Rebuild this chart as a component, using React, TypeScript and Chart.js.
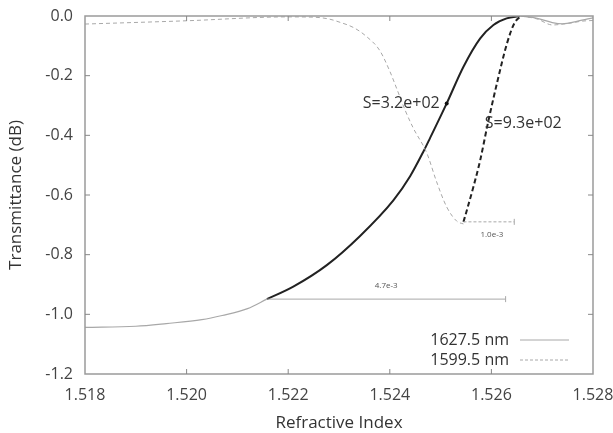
import React, { useEffect, useRef } from "react";
import { Chart, registerables } from "chart.js";

Chart.register(...registerables);

// 1627.5 nm – light grey full trace (left tail)
const solidTailX = [1.518, 1.519, 1.5196, 1.5203, 1.5207, 1.5212, 1.52158];
const solidTailY = [-1.044, -1.04, -1.031, -1.018, -1.004, -0.981, -0.949];
// 1627.5 nm – black sensing segment
const solidSlopeX = [1.52158, 1.5221, 1.52276, 1.52341, 1.52407, 1.5244, 1.52466, 1.52479, 1.52512, 1.52545, 1.52578, 1.52604, 1.5263, 1.52656];
const solidSlopeY = [-0.949, -0.907, -0.835, -0.738, -0.618, -0.537, -0.455, -0.41, -0.293, -0.17, -0.075, -0.03, -0.008, 0.0];
// 1627.5 nm – ripple after the edge
const solidRippleX = [1.52656, 1.5269, 1.5272, 1.5274, 1.5277, 1.528];
const solidRippleY = [0.0, -0.008, -0.022, -0.026, -0.017, -0.006];

// 1599.5 nm – grey dashed trace
const dashGreyX = [1.518, 1.52, 1.522, 1.5225, 1.5228, 1.523, 1.5233, 1.52355, 1.5238, 1.524, 1.52414, 1.5243, 1.52446, 1.52473, 1.52492, 1.52512, 1.52532, 1.52545];
const dashGreyY = [-0.027, -0.016, -0.003, -0.004, -0.01, -0.02, -0.04, -0.07, -0.115, -0.185, -0.245, -0.315, -0.375, -0.46, -0.555, -0.64, -0.688, -0.697];
// 1599.5 nm – black dashed sensing segment
const dashSlopeX = [1.52545, 1.52551, 1.52565, 1.52578, 1.52593, 1.52611, 1.52631, 1.52645, 1.52658];
const dashSlopeY = [-0.69, -0.655, -0.57, -0.483, -0.36, -0.225, -0.09, -0.025, 0.0];
// 1599.5 nm – ripple after the edge
const dashRippleX = [1.52658, 1.5269, 1.5272, 1.5275, 1.5278, 1.528];
const dashRippleY = [0.0, -0.01, -0.03, -0.025, -0.017, -0.015];

// measurement bars
const barLabels = ["4.7e-3", "1.0e-3"];
const barStartX = [1.52158, 1.52545];
const barEndX = [1.52628, 1.52645];
const barY = [-0.949, -0.69];

// sensitivity labels
const sensLabels = ["S=3.2e+02", "S=9.3e+02"];
const sensX = [1.52512, 1.52593];
const sensY = [-0.293, -0.36];

const legendLabels = ["1627.5 nm", "1599.5 nm"];

const xTicks = [1.518, 1.52, 1.522, 1.524, 1.526, 1.528];
const yTicks = [0, -0.2, -0.4, -0.6, -0.8, -1.0, -1.2];

const pts = (xs: number[], ys: number[]) => xs.map((x, i) => ({ x, y: ys[i] }));

const FONT = "'Open Sans', 'DejaVu Sans', sans-serif";
const GREY = "#a8a8a8";
const DARK = "#222";

const decorPlugin = {
  id: "decor",
  afterDatasetsDraw(chart: any) {
    const { ctx, chartArea: a, scales } = chart;
    const xs = scales.x;
    const ys = scales.y;
    ctx.save();
    // frame
    ctx.strokeStyle = "#9a9a9a";
    ctx.lineWidth = 1.5;
    ctx.setLineDash([]);
    ctx.strokeRect(a.left, a.top, a.right - a.left, a.bottom - a.top);
    // inward ticks
    ctx.lineWidth = 1;
    ctx.strokeStyle = "#888";
    xTicks.slice(1, -1).forEach((v) => {
      const px = xs.getPixelForValue(v);
      ctx.beginPath();
      ctx.moveTo(px, a.bottom);
      ctx.lineTo(px, a.bottom - 5);
      ctx.moveTo(px, a.top);
      ctx.lineTo(px, a.top + 5);
      ctx.stroke();
    });
    yTicks.slice(1, -1).forEach((v) => {
      const py = ys.getPixelForValue(v);
      ctx.beginPath();
      ctx.moveTo(a.left, py);
      ctx.lineTo(a.left + 5, py);
      ctx.moveTo(a.right, py);
      ctx.lineTo(a.right - 5, py);
      ctx.stroke();
    });
    // measurement bars
    barLabels.forEach((lab, i) => {
      const x0 = xs.getPixelForValue(barStartX[i]);
      const x1 = xs.getPixelForValue(barEndX[i]);
      const y = ys.getPixelForValue(barY[i]);
      ctx.strokeStyle = GREY;
      ctx.lineWidth = 1;
      ctx.setLineDash(i === 1 ? [3, 2] : []);
      ctx.beginPath();
      ctx.moveTo(x0, y);
      ctx.lineTo(x1, y);
      ctx.stroke();
      ctx.setLineDash([]);
      ctx.beginPath();
      ctx.moveTo(x1, y - 3);
      ctx.lineTo(x1, y + 3);
      ctx.stroke();
      ctx.fillStyle = "#555";
      ctx.font = `8px ${FONT}`;
      ctx.textAlign = "center";
      ctx.textBaseline = "middle";
      const cx = i === 0 ? (x0 + x1) / 2 : (x0 + x1) / 2 + 3;
      const cy = i === 0 ? y - 13 : y + 13;
      ctx.fillText(lab, cx, cy);
    });
    // sensitivity labels
    ctx.font = `16px ${FONT}`;
    ctx.fillStyle = "#333";
    ctx.textBaseline = "middle";
    sensLabels.forEach((lab, i) => {
      const px = xs.getPixelForValue(sensX[i]);
      const py = ys.getPixelForValue(sensY[i]);
      if (i === 0) {
        ctx.textAlign = "right";
        ctx.fillText(lab, px - 7, py);
        ctx.beginPath();
        ctx.fillStyle = "#111";
        ctx.arc(px, py, 2, 0, Math.PI * 2);
        ctx.fill();
        ctx.fillStyle = "#333";
      } else {
        ctx.textAlign = "left";
        ctx.fillText(lab, px - 3, py);
      }
    });
    // legend
    ctx.font = `16px ${FONT}`;
    ctx.textAlign = "right";
    legendLabels.forEach((lab, i) => {
      const y = a.bottom - 34 + i * 20;
      ctx.fillStyle = "#333";
      ctx.fillText(lab, a.right - 84, y);
      ctx.strokeStyle = GREY;
      ctx.lineWidth = 1;
      ctx.setLineDash(i === 1 ? [3, 2] : []);
      ctx.beginPath();
      ctx.moveTo(a.right - 73, y);
      ctx.lineTo(a.right - 24, y);
      ctx.stroke();
    });
    ctx.restore();
  },
};

export default function App() {
  const ref = useRef<HTMLCanvasElement | null>(null);
  useEffect(() => {
    if (!ref.current) return;
    const line = (data: any[], color: string, width: number, dash: number[]) => ({
      data,
      showLine: true,
      borderColor: color,
      borderWidth: width,
      borderDash: dash,
      pointRadius: 0,
      cubicInterpolationMode: "monotone",
      fill: false,
    });
    const chart = new Chart(ref.current, {
      type: "scatter",
      data: {
        datasets: [
          line(pts(solidTailX, solidTailY), GREY, 1.2, []),
          line(pts(solidRippleX, solidRippleY), GREY, 1.2, []),
          line(pts(dashGreyX, dashGreyY), GREY, 1, [4, 3]),
          line(pts(dashRippleX, dashRippleY), GREY, 1, [4, 3]),
          line(pts(solidSlopeX, solidSlopeY), DARK, 2, []),
          line(pts(dashSlopeX, dashSlopeY), DARK, 2, [5, 3]),
        ],
      },
      options: {
        animation: false,
        responsive: false,
        layout: { padding: { left: 0, top: 16, right: 20, bottom: 0 } },
        plugins: { legend: { display: false }, tooltip: { enabled: false } },
        scales: {
          x: {
            type: "linear",
            min: 1.518,
            max: 1.528,
            afterBuildTicks: (s: any) => {
              s.ticks = xTicks.map((v) => ({ value: v }));
            },
            afterFit: (s: any) => {
              s.height = 59;
              s.paddingLeft = 0;
              s.paddingRight = 0;
            },
            ticks: {
              padding: 12,
              color: "#444",
              font: { family: FONT, size: 16 },
              callback: (v: any) => Number(v).toFixed(3),
            },
            grid: { display: false, drawTicks: false },
            border: { display: false },
            title: {
              display: true,
              text: "Refractive Index",
              color: "#333",
              font: { family: FONT, size: 17 },
              padding: { top: 0, bottom: 0 },
            },
          },
          y: {
            type: "linear",
            min: -1.2,
            max: 0,
            afterBuildTicks: (s: any) => {
              s.ticks = yTicks.map((v) => ({ value: v }));
            },
            afterFit: (s: any) => {
              s.width = 85;
              s.paddingTop = 0;
              s.paddingBottom = 0;
            },
            ticks: {
              padding: 12,
              color: "#444",
              font: { family: FONT, size: 16 },
              callback: (v: any) => Number(v).toFixed(1),
            },
            grid: { display: false, drawTicks: false },
            border: { display: false },
            title: {
              display: true,
              text: "Transmittance (dB)",
              color: "#333",
              font: { family: FONT, size: 17 },
              padding: { top: 6, bottom: 0 },
            },
          },
        },
      },
      plugins: [decorPlugin],
    } as any);
    return () => chart.destroy();
  }, []);
  return (
    <div style={{ position: "absolute", left: 0, top: 0, width: 613, height: 433, background: "#fff" }}>
      <canvas ref={ref} width={613} height={433} />
    </div>
  );
}
